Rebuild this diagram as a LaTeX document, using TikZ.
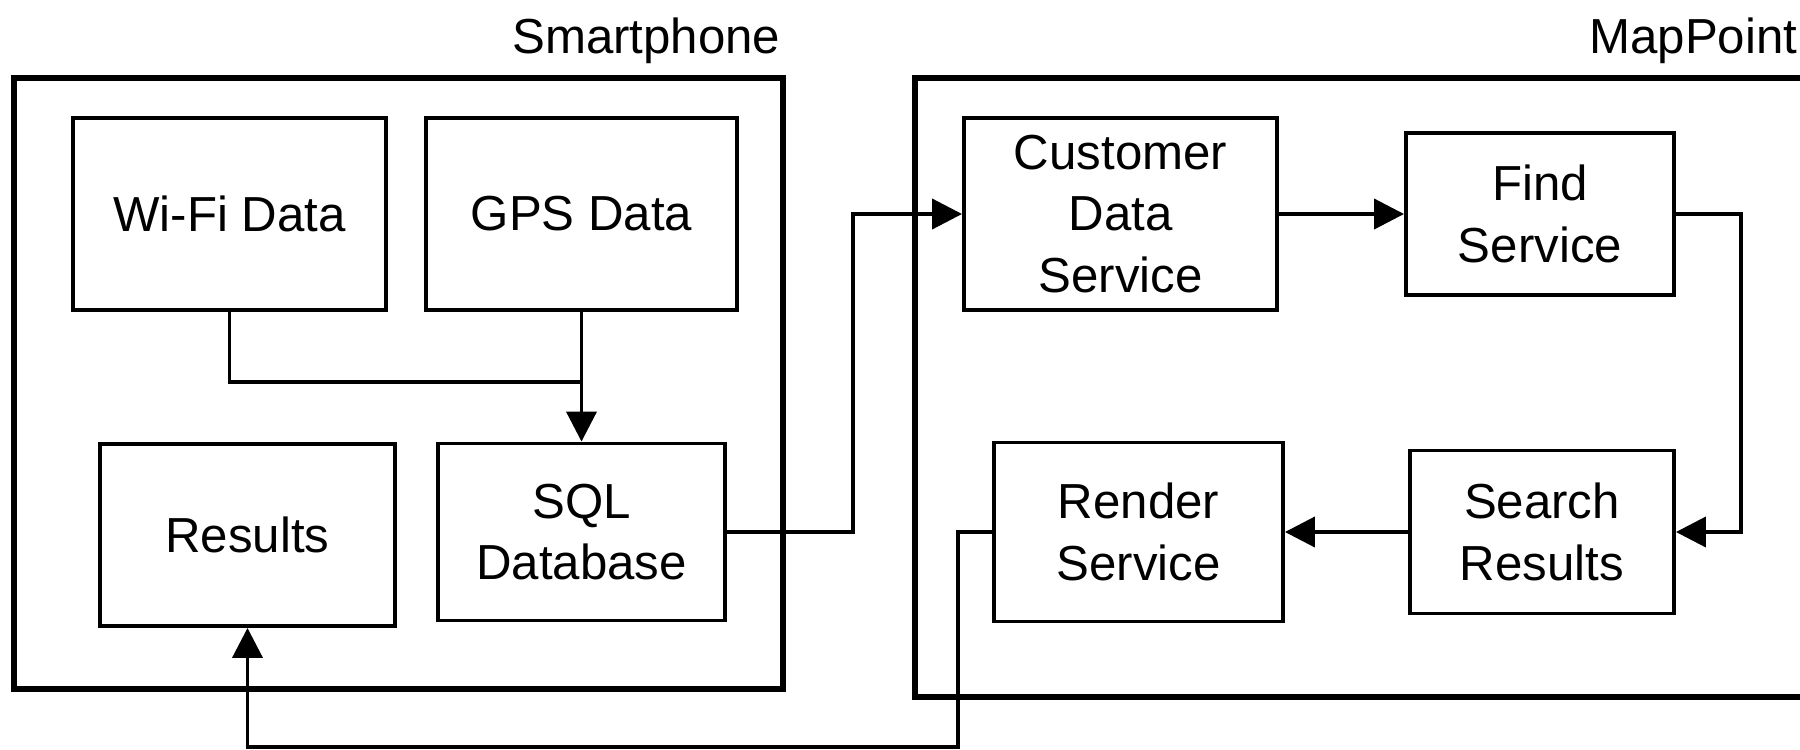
\documentclass[tikz,border=0pt]{standalone}
\usepackage{fontspec}
\setmainfont{Liberation Sans}
\usetikzlibrary{arrows.meta, positioning}

\begin{document}
\begin{tikzpicture}[
        frame/.style={draw, line width=1.7pt, inner sep=0pt},
        box/.style={draw, line width=1.1pt, align=center, inner sep=0pt,
            font=\fontsize{14}{17.5}\selectfont},
        title/.style={anchor=base east, inner sep=0pt, font=\fontsize{14}{17}\selectfont},
        arr/.style={line width=1.1pt, -{Triangle[length=3mm, width=3mm]}},
        wire/.style={line width=1.1pt}
    ]
                \useasboundingbox (0,0) rectangle (18,7.49);

                % Two outer frames with their titles
                \node[frame, minimum width=7.69cm, minimum height=6.11cm] (phone) at (3.985,3.655) {};
                \node[frame, minimum width=8.9cm, minimum height=6.19cm] (mappoint) at (13.6,3.615) {};
                \node[title] (phonetitle) at (7.81,6.96) {Smartphone};
                \node[title] (maptitle) at (17.98,6.96) {MapPoint};

                % Smartphone side
                \node[box, minimum width=3.13cm, minimum height=1.92cm] (wifi) at (2.295,5.35) {Wi-Fi Data};
                \node[box, minimum width=3.11cm, minimum height=1.92cm] (gps) at (5.815,5.35) {GPS Data};
                \node[box, minimum width=2.95cm, minimum height=1.82cm] (results) at (2.475,2.14) {Results};
                \node[box, minimum width=2.87cm, minimum height=1.77cm] (sql) at (5.815,2.17) {SQL\\Database};

                % MapPoint side
                \node[box, minimum width=3.13cm, minimum height=1.92cm] (customer) at (11.205,5.35) {Customer\\Data\\Service};
                \node[box, minimum width=2.68cm, minimum height=1.62cm] (find) at (15.40,5.35) {Find\\Service};
                \node[box, minimum width=2.64cm, minimum height=1.63cm] (search) at (15.42,2.17) {Search\\Results};
                \node[box, minimum width=2.89cm, minimum height=1.79cm] (render) at (11.385,2.17) {Render\\Service};

                % Connectors
                \coordinate (join) at (5.815,3.67);
                \coordinate (back) at (2.475,0.02);
                \draw[wire] (wifi.south) |- (join);
                \draw[arr] (gps.south) -- (sql.north);
                \draw[arr] (sql.east) -- ++(1.26,0) |- (customer.west);
                \draw[arr] (customer.east) -- (find.west);
                \draw[arr] (find.east) -- ++(0.65,0) |- (search.east);
                \draw[arr] (search.west) -- (render.east);
                \draw[arr] (render.west) -- ++(-0.34,0) |- (back) -- (results.south);
            \end{tikzpicture}
\end{document}
